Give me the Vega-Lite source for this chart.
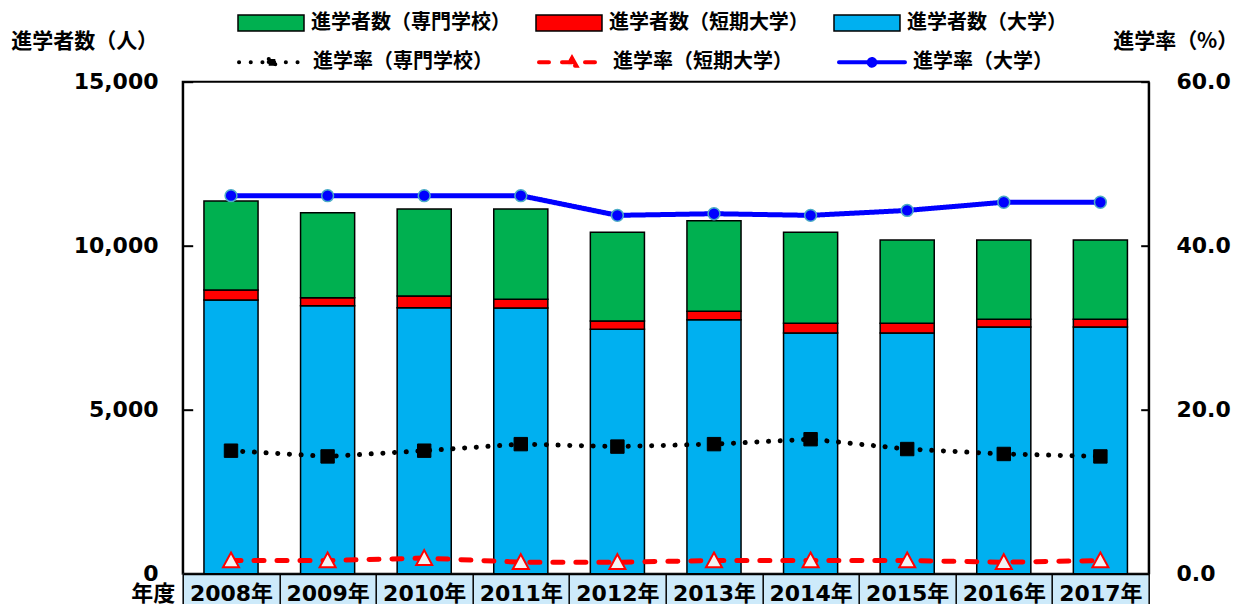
{
  "$schema": "https://vega.github.io/schema/vega-lite/v6.json",
  "width": 966,
  "height": 492,
  "autosize": "none",
  "padding": {"left": 182.7, "top": 81.7, "right": 92, "bottom": 30},
  "background": "white",
  "config": {
    "view": {"stroke": "black", "strokeWidth": 2},
    "axis": {
      "grid": false,
      "domainColor": "black",
      "domainWidth": 2,
      "tickColor": "black",
      "tickWidth": 2,
      "labelColor": "black",
      "titleColor": "black",
      "labelFont": "DejaVu Sans",
      "labelFontWeight": "bold",
      "labelFontSize": 22,
      "titleFont": "Noto Sans CJK JP",
      "titleFontWeight": "bold",
      "titleFontSize": 21
    },
    "legend": {
      "padding": 0,
      "labelFont": "Noto Sans CJK JP",
      "labelFontWeight": "bold",
      "labelFontSize": 20,
      "labelColor": "black",
      "labelLimit": 400,
      "labelOffset": 6
    }
  },
  "datasets": {
    "years": [
      {"year": "2008年"}, {"year": "2009年"}, {"year": "2010年"}, {"year": "2011年"}, {"year": "2012年"},
      {"year": "2013年"}, {"year": "2014年"}, {"year": "2015年"}, {"year": "2016年"}, {"year": "2017年"}
    ],
    "counts": [
      {"year": "2008年", "type": "進学者数（大学）", "ord": 1, "count": 8345},
      {"year": "2008年", "type": "進学者数（短期大学）", "ord": 2, "count": 305},
      {"year": "2008年", "type": "進学者数（専門学校）", "ord": 3, "count": 2713},
      {"year": "2009年", "type": "進学者数（大学）", "ord": 1, "count": 8171},
      {"year": "2009年", "type": "進学者数（短期大学）", "ord": 2, "count": 244},
      {"year": "2009年", "type": "進学者数（専門学校）", "ord": 3, "count": 2591},
      {"year": "2010年", "type": "進学者数（大学）", "ord": 1, "count": 8110},
      {"year": "2010年", "type": "進学者数（短期大学）", "ord": 2, "count": 357},
      {"year": "2010年", "type": "進学者数（専門学校）", "ord": 3, "count": 2652},
      {"year": "2011年", "type": "進学者数（大学）", "ord": 1, "count": 8101},
      {"year": "2011年", "type": "進学者数（短期大学）", "ord": 2, "count": 265},
      {"year": "2011年", "type": "進学者数（専門学校）", "ord": 3, "count": 2753},
      {"year": "2012年", "type": "進学者数（大学）", "ord": 1, "count": 7451},
      {"year": "2012年", "type": "進学者数（短期大学）", "ord": 2, "count": 253},
      {"year": "2012年", "type": "進学者数（専門学校）", "ord": 3, "count": 2705},
      {"year": "2013年", "type": "進学者数（大学）", "ord": 1, "count": 7744},
      {"year": "2013年", "type": "進学者数（短期大学）", "ord": 2, "count": 256},
      {"year": "2013年", "type": "進学者数（専門学校）", "ord": 3, "count": 2762},
      {"year": "2014年", "type": "進学者数（大学）", "ord": 1, "count": 7339},
      {"year": "2014年", "type": "進学者数（短期大学）", "ord": 2, "count": 295},
      {"year": "2014年", "type": "進学者数（専門学校）", "ord": 3, "count": 2775},
      {"year": "2015年", "type": "進学者数（大学）", "ord": 1, "count": 7339},
      {"year": "2015年", "type": "進学者数（短期大学）", "ord": 2, "count": 295},
      {"year": "2015年", "type": "進学者数（専門学校）", "ord": 3, "count": 2540},
      {"year": "2016年", "type": "進学者数（大学）", "ord": 1, "count": 7521},
      {"year": "2016年", "type": "進学者数（短期大学）", "ord": 2, "count": 235},
      {"year": "2016年", "type": "進学者数（専門学校）", "ord": 3, "count": 2418},
      {"year": "2017年", "type": "進学者数（大学）", "ord": 1, "count": 7521},
      {"year": "2017年", "type": "進学者数（短期大学）", "ord": 2, "count": 235},
      {"year": "2017年", "type": "進学者数（専門学校）", "ord": 3, "count": 2418}
    ],
    "rates": [
      {"year": "2008年", "series": "進学率（専門学校）", "rate": 15.0},
      {"year": "2009年", "series": "進学率（専門学校）", "rate": 14.3},
      {"year": "2010年", "series": "進学率（専門学校）", "rate": 15.0},
      {"year": "2011年", "series": "進学率（専門学校）", "rate": 15.8},
      {"year": "2012年", "series": "進学率（専門学校）", "rate": 15.5},
      {"year": "2013年", "series": "進学率（専門学校）", "rate": 15.8},
      {"year": "2014年", "series": "進学率（専門学校）", "rate": 16.4},
      {"year": "2015年", "series": "進学率（専門学校）", "rate": 15.2},
      {"year": "2016年", "series": "進学率（専門学校）", "rate": 14.6},
      {"year": "2017年", "series": "進学率（専門学校）", "rate": 14.3},
      {"year": "2008年", "series": "進学率（短期大学）", "rate": 1.6},
      {"year": "2009年", "series": "進学率（短期大学）", "rate": 1.6},
      {"year": "2010年", "series": "進学率（短期大学）", "rate": 1.9},
      {"year": "2011年", "series": "進学率（短期大学）", "rate": 1.4},
      {"year": "2012年", "series": "進学率（短期大学）", "rate": 1.4},
      {"year": "2013年", "series": "進学率（短期大学）", "rate": 1.6},
      {"year": "2014年", "series": "進学率（短期大学）", "rate": 1.6},
      {"year": "2015年", "series": "進学率（短期大学）", "rate": 1.6},
      {"year": "2016年", "series": "進学率（短期大学）", "rate": 1.4},
      {"year": "2017年", "series": "進学率（短期大学）", "rate": 1.6},
      {"year": "2008年", "series": "進学率（大学）", "rate": 46.1},
      {"year": "2009年", "series": "進学率（大学）", "rate": 46.1},
      {"year": "2010年", "series": "進学率（大学）", "rate": 46.1},
      {"year": "2011年", "series": "進学率（大学）", "rate": 46.1},
      {"year": "2012年", "series": "進学率（大学）", "rate": 43.7},
      {"year": "2013年", "series": "進学率（大学）", "rate": 43.9},
      {"year": "2014年", "series": "進学率（大学）", "rate": 43.7},
      {"year": "2015年", "series": "進学率（大学）", "rate": 44.3},
      {"year": "2016年", "series": "進学率（大学）", "rate": 45.3},
      {"year": "2017年", "series": "進学率（大学）", "rate": 45.3}
    ]
  },
  "layer": [
    {
      "layer": [
        {
          "data": {"name": "years"},
          "mark": {"type": "bar", "fill": "#cdeafa", "stroke": null},
          "encoding": {
            "x": {
              "field": "year", "type": "nominal",
              "scale": {"domain": ["2008年","2009年","2010年","2011年","2012年","2013年","2014年","2015年","2016年","2017年"], "paddingInner": 0, "paddingOuter": 0},
              "axis": {
                "title": "年度", "titleAngle": 0, "titleAlign": "left", "titleBaseline": "middle",
                "titleX": -52, "titleY": 20, "titleFontSize": 22,
                "labelAngle": 0, "labelFont": "DejaVu Sans, Noto Sans CJK JP", "labelFontSize": 22,
                "labelBaseline": "middle", "labelPadding": -20,
                "tickBand": "extent", "tickSize": 40, "tickWidth": 1.5, "zindex": 1
              }
            },
            "y": {
              "datum": 0, "type": "quantitative",
              "scale": {"domain": [0, 15000], "nice": false},
              "axis": {
                "values": [0, 5000, 10000, 15000], "labelExpr": "format(datum.value, ',')", "tickSize": -10, "labelPadding": 34.7,
                "title": "進学者数（人）", "titleAngle": 0, "titleAlign": "left", "titleBaseline": "middle",
                "titleX": -172, "titleY": -40
              }
            },
            "y2": {"datum": -1300}
          }
        },
        {
          "data": {"name": "counts"},
          "mark": {"type": "bar", "width": {"band": 0.56}, "stroke": "black", "strokeWidth": 1.5},
          "encoding": {
            "x": {"field": "year", "type": "nominal"},
            "y": {
              "field": "count", "type": "quantitative", "stack": "zero",
              "scale": {"domain": [0, 15000], "nice": false},
              "axis": {
                "values": [0, 5000, 10000, 15000], "labelExpr": "format(datum.value, ',')", "tickSize": -10, "labelPadding": 34.7,
                "title": "進学者数（人）", "titleAngle": 0, "titleAlign": "left", "titleBaseline": "middle",
                "titleX": -172, "titleY": -40
              }
            },
            "order": {"field": "ord", "type": "quantitative"},
            "fill": {
              "field": "type", "type": "nominal",
              "scale": {"domain": ["進学者数（専門学校）", "進学者数（短期大学）", "進学者数（大学）"], "range": ["#00b050", "#ff0000", "#00b0f0"]},
              "legend": {
                "orient": "none", "legendX": 54.3, "legendY": -92.7, "direction": "horizontal", "title": null,
                "symbolType": "M-1,-0.24H1V0.24H-1Z", "symbolSize": 4356,
                "symbolStrokeColor": "black", "symbolStrokeWidth": 1.5, "symbolOpacity": 1,
                "columnPadding": 22
              }
            }
          }
        }
      ]
    },
    {
      "data": {"name": "rates"},
      "encoding": {
        "x": {"field": "year", "type": "nominal"},
        "y": {
          "field": "rate", "type": "quantitative",
          "scale": {"domain": [0, 60], "nice": false},
          "axis": {
            "orient": "right", "values": [0, 20, 40, 60], "format": ".1f", "tickSize": -8, "labelPadding": 35.3,
            "title": "進学率（%）", "titleAngle": 0, "titleAlign": "left", "titleBaseline": "middle",
            "titleX": -36, "titleY": -40
          }
        }
      },
      "layer": [
        {
          "mark": {"type": "line", "strokeWidth": 5, "strokeCap": "round"},
          "encoding": {
            "stroke": {
              "field": "series", "type": "nominal",
              "scale": {"domain": ["進学率（専門学校）", "進学率（短期大学）", "進学率（大学）"], "range": ["#000000", "#ff0000", "#0000ff"]},
              "legend": {
                "orient": "none", "legendX": 54.3, "legendY": -54.7, "direction": "horizontal", "title": null,
                "symbolSize": 4356, "columnPadding": 38,
                "encode": {
                  "symbols": {
                    "update": {
                      "shape": {"signal": "datum.value === '進学率（専門学校）' ? 'M-1,0H1M-0.1,-0.1H0.1V0.1H-0.1Z' : datum.value === '進学率（短期大学）' ? 'M-1,0H1M0,-0.13L0.13,0.1H-0.13Z' : 'M-1,0H1M0.1,0A0.1,0.1 0 1,1 -0.1,0A0.1,0.1 0 1,1 0.1,0'"},
                      "fill": {"signal": "datum.value === '進学率（専門学校）' ? '#000000' : datum.value === '進学率（短期大学）' ? '#f2f2f2' : '#0000ff'"},
                      "strokeDash": {"signal": "datum.value === '進学率（専門学校）' ? [0.1, 7] : datum.value === '進学率（短期大学）' ? [8, 10] : [1, 0]"},
                      "strokeCap": {"value": "round"},
                      "strokeWidth": {"value": 4},
                      "opacity": {"value": 1},
                      "fillOpacity": {"value": 1}
                    }
                  }
                }
              }
            },
            "strokeDash": {
              "field": "series", "type": "nominal",
              "scale": {"domain": ["進学率（専門学校）", "進学率（短期大学）", "進学率（大学）"], "range": [[0.1, 11.6], [10, 13], [1, 0]]},
              "legend": null
            }
          }
        },
        {
          "transform": [{"filter": "datum.series === '進学率（専門学校）'"}],
          "mark": {"type": "point", "shape": "square", "fill": "#000000", "stroke": "#000000", "strokeWidth": 1, "size": 180, "opacity": 1}
        },
        {
          "transform": [{"filter": "datum.series === '進学率（短期大学）'"}],
          "mark": {"type": "point", "shape": "M0,-1L1,0.85H-1Z", "fill": "#f2f2f2", "stroke": "#ff0000", "strokeWidth": 2, "size": 256, "opacity": 1}
        },
        {
          "transform": [{"filter": "datum.series === '進学率（大学）'"}],
          "mark": {"type": "point", "shape": "circle", "fill": "#0000ff", "stroke": "#4bacc6", "strokeWidth": 1.5, "size": 140, "opacity": 1}
        }
      ]
    }
  ],
  "resolve": {"scale": {"y": "independent"}}
}
